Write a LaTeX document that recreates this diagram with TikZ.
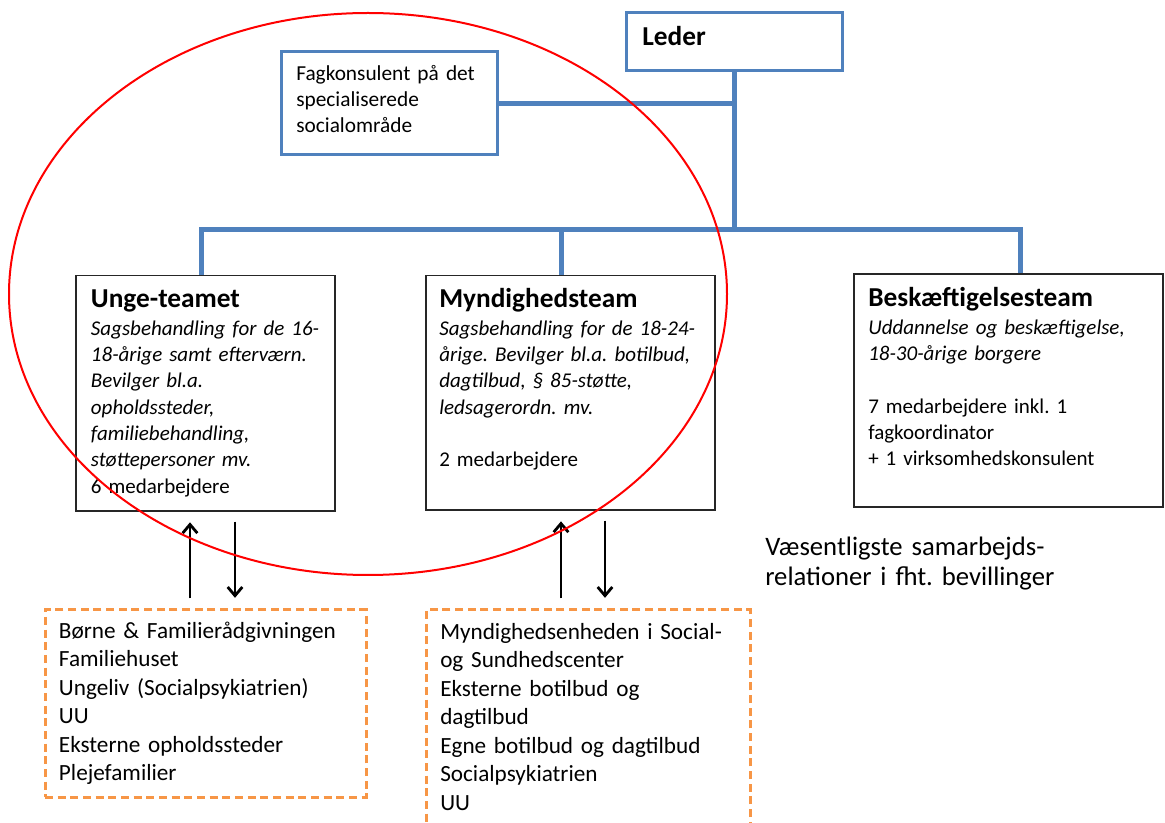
\documentclass[tikz,border=0pt]{standalone}
\usepackage{fontspec}
\setmainfont{Carlito}
\usepackage{tikz}
\usetikzlibrary{arrows.meta}
\frenchspacing

\definecolor{officeblue}{HTML}{4F81BD}
\definecolor{officeorange}{HTML}{F79646}

\begin{document}
\begin{tikzpicture}[x=0.75pt, y=-0.75pt, >={Straight Barb[length=6.5pt, width=11pt]},
    bluebox/.style={draw=officeblue, line width=2.25pt, inner sep=0pt},
    teambox/.style={draw=black!85, line width=1pt, inner sep=0pt},
    relbox/.style={draw=officeorange, line width=2.25pt, dash pattern=on 6pt off 3.5pt, inner sep=0pt},
    orgline/.style={draw=officeblue, line width=3.75pt},
    relarrow/.style={->, line width=2.1pt, shorten <=7.5pt, shorten >=8pt},
    teamtitle/.style={anchor=base west, inner sep=0pt, font=\fontsize{20.5}{24}\selectfont\bfseries},
    bodytext/.style={anchor=north west, inner sep=0pt, align=left, text width=240pt, font=\fontsize{15.75}{19.75}\selectfont},
    reltext/.style={bodytext, font=\fontsize{17.4}{21.4}\selectfont}]

  \useasboundingbox (0,0) rectangle (1165,823);

  % Ledelse
  \node[bluebox, minimum width=162pt, minimum height=43.5pt] (leder) at (734,42) {};
  \node[teamtitle] (ledertxt) at (642,46) {Leder};
  \node[bluebox, minimum width=162pt, minimum height=77.25pt] (fag) at (389,103.5) {};
  \node[bodytext, font=\fontsize{16}{19.75}\selectfont] (fagtxt) at (296,61.5)
    {\strut Fagkonsulent på det\\specialiserede\\socialområde};

  % Teams
  \node[teambox, minimum width=194.25pt, minimum height=176.6pt] (unge) at (205.5,393.25) {};
  \node[teamtitle] (ungetitle) at (90.7,308) {Unge-teamet};
  \node[bodytext] (ungetxt) at (90.7,316.6)
    {\strut\itshape Sagsbehandling for de 16-\\18-årige samt efterværn.\\Bevilger bl.a.\\opholdssteder,\\familiebehandling,\\støttepersoner mv.\\\upshape 6 medarbejdere};

  \node[teambox, minimum width=216.75pt, minimum height=175.9pt] (mynd) at (570.5,392.75) {};
  \node[teamtitle] (myndtitle) at (439,308) {Myndighedsteam};
  \node[bodytext] (myndtxt) at (439,316.6)
    {\strut\itshape Sagsbehandling for de 18-24-\\årige. Bevilger bl.a. botilbud,\\dagtilbud, § 85-støtte,\\ledsagerordn. mv.\\[\baselineskip]\upshape 2 medarbejdere};

  \node[teambox, minimum width=231.75pt, minimum height=174.75pt] (besk) at (1008.5,390.5) {};
  \node[teamtitle] (besktitle) at (868,307) {Beskæftigelsesteam};
  \node[bodytext] (besktxt) at (868,315.6)
    {\strut\itshape Uddannelse og beskæftigelse,\\18-30-årige borgere\\[\baselineskip]\upshape 7 medarbejdere inkl. 1\\fagkoordinator\\+ 1 virksomhedskonsulent};

  % Samarbejdspartnere
  \node[bodytext, font=\fontsize{20}{22.5}\selectfont] (vaes) at (765,534)
    {\strut Væsentligste samarbejds-\\relationer i fht. bevillinger};

  \node[relbox, minimum width=240.75pt, minimum height=140.25pt] (rel1) at (205.5,703.5) {};
  \node[reltext] (rel1txt) at (58.7,618)
    {\strut Børne \& Familierådgivningen\\Familiehuset\\Ungeliv (Socialpsykiatrien)\\UU\\Eksterne opholdssteder\\Plejefamilier};
  \node[relbox, minimum width=243pt, minimum height=168.75pt] (rel2) at (588,722.5) {};
  \node[reltext] (rel2txt) at (440,619)
    {\strut Myndighedsenheden i Social-\\og Sundhedscenter\\Eksterne botilbud og\\dagtilbud\\Egne botilbud og dagtilbud\\Socialpsykiatrien\\UU};

  % Organisationslinjer
  \coordinate (busL) at (201,230);
  \coordinate (busM) at (561,230);
  \coordinate (busR) at (1020,230);
  \draw[orgline] (unge.north -| busL) -- (busL) -- (busR) -- (besk.north -| busR);
  \draw[orgline] (leder.south) -- (leder.south |- busL);
  \draw[orgline] (fag.east) -- (fag.east -| leder.south);
  \draw[orgline] (busM) -- (mynd.north -| busM);

  % Pile
  \draw[relarrow] (rel1.north -| 190,0) -- (unge.south -| 190,0);
  \draw[relarrow] (unge.south -| 235,0) -- (rel1.north -| 235,0);
  \draw[relarrow] (rel2.north -| 561,0) -- (mynd.south -| 561,0);
  \draw[relarrow] (mynd.south -| 605,0) -- (rel2.north -| 605,0);

  % Ring
  \draw[red, line width=1.5pt] (368,294) ellipse [x radius=359, y radius=281];
\end{tikzpicture}
\end{document}
